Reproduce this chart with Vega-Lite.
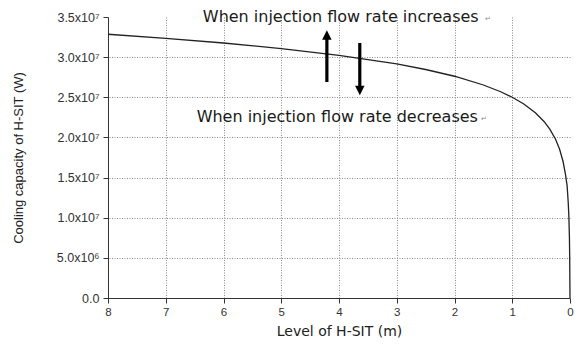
{
  "$schema": "https://vega.github.io/schema/vega-lite/v6.json",
  "width": 462,
  "height": 281,
  "autosize": "none",
  "padding": {"left": 108, "top": 17, "right": 13, "bottom": 49},
  "background": "white",
  "config": {
    "view": {"stroke": null},
    "font": "Liberation Sans"
  },
  "datasets": {
    "capacity": [
      {"level": 8.0, "watts": 32850000},
      {"level": 7.0, "watts": 32350000},
      {"level": 6.0, "watts": 31760000},
      {"level": 5.0, "watts": 31070000},
      {"level": 4.0, "watts": 30230000},
      {"level": 3.0, "watts": 29150000},
      {"level": 2.5, "watts": 28460000},
      {"level": 2.0, "watts": 27620000},
      {"level": 1.5, "watts": 26530000},
      {"level": 1.2, "watts": 25690000},
      {"level": 1.0, "watts": 25000000},
      {"level": 0.8, "watts": 24160000},
      {"level": 0.6, "watts": 23070000},
      {"level": 0.45, "watts": 21990000},
      {"level": 0.35, "watts": 21040000},
      {"level": 0.25, "watts": 19770000},
      {"level": 0.18, "watts": 18530000},
      {"level": 0.12, "watts": 17000000},
      {"level": 0.08, "watts": 15470000},
      {"level": 0.05, "watts": 14000000},
      {"level": 0.03, "watts": 11800000},
      {"level": 0.02, "watts": 10200000},
      {"level": 0.01, "watts": 7600000},
      {"level": 0.005, "watts": 5000000},
      {"level": 0.0025, "watts": 2400000},
      {"level": 0.0, "watts": 0}
    ],
    "shafts": [
      {"level": 4.21, "from": 26900000, "to": 32400000},
      {"level": 3.64, "from": 31760000, "to": 26280000}
    ],
    "headsUp": [
      {"level": 4.21, "watts": 32760000}
    ],
    "headsDown": [
      {"level": 3.64, "watts": 25850000}
    ],
    "notes": [
      {"level": 3.97, "watts": 34400000, "note": "When injection flow rate increases"},
      {"level": 4.03, "watts": 21900000, "note": "When injection flow rate decreases"}
    ],
    "marks": [
      {"level": 1.47, "watts": 34500000, "note": "↵"},
      {"level": 1.54, "watts": 22000000, "note": "↵"}
    ]
  },
  "layer": [
    {
      "data": {"name": "capacity"},
      "mark": {"type": "line", "color": "#222222", "strokeWidth": 1.3},
      "encoding": {
        "x": {
          "field": "level",
          "type": "quantitative",
          "scale": {"domain": [0, 8], "reverse": true, "nice": false},
          "axis": {
            "title": "Level of H-SIT (m)",
            "titleFont": "DejaVu Sans",
            "titleFontSize": 14,
            "titleFontWeight": "normal",
            "titleColor": "#222222",
            "titlePadding": 7,
            "values": [0, 0.5, 1, 1.5, 2, 2.5, 3, 3.5, 4, 4.5, 5, 5.5, 6, 6.5, 7, 7.5, 8],
            "labelExpr": "datum.value % 1 == 0 ? format(datum.value, 'd') : ''",
            "labelFontSize": 11.5,
            "labelColor": "#333333",
            "labelPadding": 3,
            "labelFlush": false,
            "labelOverlap": false,
            "domainColor": "#333333",
            "domainWidth": 1,
            "tickColor": "#333333",
            "tickWidth": 1,
            "tickSize": {"condition": {"test": "datum.value % 1 != 0", "value": 3}, "value": 5},
            "grid": true,
            "gridColor": "#8a8a8a",
            "gridDash": [1, 1.5],
            "gridWidth": 1,
            "gridOpacity": {"condition": {"test": "datum.value % 1 != 0 || datum.value == 0 || datum.value == 8", "value": 0}, "value": 1}
          }
        },
        "y": {
          "field": "watts",
          "type": "quantitative",
          "scale": {"domain": [0, 35000000], "nice": false},
          "axis": {
            "title": "Cooling capacity of H-SIT (W)",
            "titleFont": "Liberation Sans",
            "titleFontSize": 13,
            "titleFontWeight": "normal",
            "titleColor": "#222222",
            "titlePadding": 31,
            "values": [0, 2500000, 5000000, 7500000, 10000000, 12500000, 15000000, 17500000, 20000000, 22500000, 25000000, 27500000, 30000000, 32500000, 35000000],
            "labelExpr": "datum.value == 0 ? '0.0' : datum.value == 5000000 ? '5.0x10⁶' : datum.value % 5000000 == 0 ? format(datum.value / 10000000, '.1f') + 'x10⁷' : ''",
            "labelFontSize": 12.5,
            "labelColor": "#333333",
            "labelPadding": 4,
            "labelFlush": false,
            "labelOverlap": false,
            "domainColor": "#333333",
            "domainWidth": 1,
            "tickColor": "#333333",
            "tickWidth": 1,
            "tickSize": {"condition": {"test": "datum.value % 5000000 != 0", "value": 3}, "value": 5},
            "grid": true,
            "gridColor": "#8a8a8a",
            "gridDash": [1, 1.5],
            "gridWidth": 1,
            "gridOpacity": {"condition": {"test": "datum.value % 5000000 != 0 || datum.value == 0 || datum.value == 35000000", "value": 0}, "value": 1}
          }
        }
      }
    },
    {
      "data": {"name": "shafts"},
      "mark": {"type": "rule", "color": "#000000", "strokeWidth": 3.2},
      "encoding": {
        "x": {"field": "level", "type": "quantitative"},
        "y": {"field": "from", "type": "quantitative"},
        "y2": {"field": "to"}
      }
    },
    {
      "data": {"name": "headsUp"},
      "mark": {"type": "point", "shape": "M-1,1L1,1L0,-1Z", "filled": true, "color": "#000000", "size": 90, "opacity": 1},
      "encoding": {
        "x": {"field": "level", "type": "quantitative"},
        "y": {"field": "watts", "type": "quantitative"}
      }
    },
    {
      "data": {"name": "headsDown"},
      "mark": {"type": "point", "shape": "M-1,-1L1,-1L0,1Z", "filled": true, "color": "#000000", "size": 90, "opacity": 1},
      "encoding": {
        "x": {"field": "level", "type": "quantitative"},
        "y": {"field": "watts", "type": "quantitative"}
      }
    },
    {
      "data": {"name": "notes"},
      "mark": {"type": "text", "font": "DejaVu Sans", "fontSize": 16, "color": "#1a1a1a", "align": "center", "baseline": "alphabetic"},
      "encoding": {
        "x": {"field": "level", "type": "quantitative"},
        "y": {"field": "watts", "type": "quantitative"},
        "text": {"field": "note"}
      }
    },
    {
      "data": {"name": "marks"},
      "mark": {"type": "text", "font": "DejaVu Sans", "fontSize": 7, "color": "#888888", "align": "left", "baseline": "alphabetic"},
      "encoding": {
        "x": {"field": "level", "type": "quantitative"},
        "y": {"field": "watts", "type": "quantitative"},
        "text": {"field": "note"}
      }
    }
  ]
}
